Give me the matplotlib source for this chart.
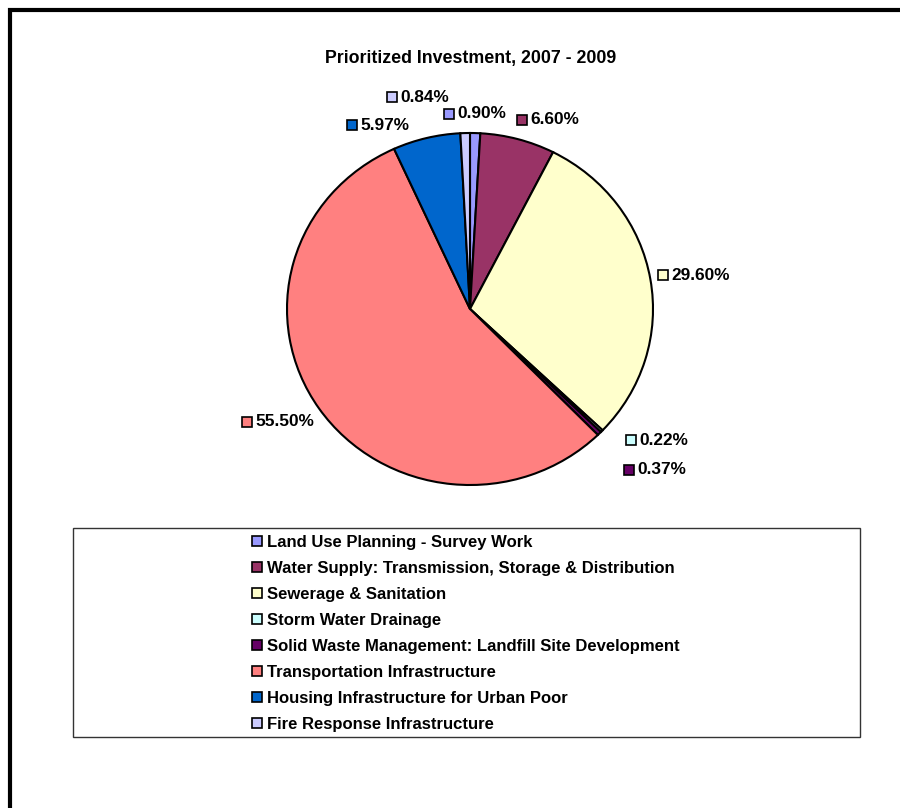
import matplotlib
matplotlib.use("Agg")
import matplotlib.pyplot as plt
from matplotlib.patches import Rectangle, Patch
from matplotlib.lines import Line2D

plt.rcParams['font.family'] = ['Liberation Sans', 'DejaVu Sans']

#%%
# data
categories = ["Land Use Planning - Survey Work",
              "Water Supply: Transmission, Storage & Distribution",
              "Sewerage & Sanitation",
              "Storm Water Drainage",
              "Solid Waste Management: Landfill Site Development",
              "Transportation Infrastructure",
              "Housing Infrastructure for Urban Poor",
              "Fire Response Infrastructure"]
shares = [0.90, 6.60, 29.60, 0.22, 0.37, 55.50, 5.97, 0.84]
colors = ["#9999FF", "#993366", "#FFFFCC", "#CCFFFF",
          "#660066", "#FF8080", "#0066CC", "#CCCCFF"]

# label marker positions (pixels, from top-left)
label_pos = [(449, 114), (522, 120), (663, 275), (631, 440),
             (629, 470), (247, 422), (352, 125), (392, 97)]

W, H = 900, 808
def fx(x):
    return x / W
def fy(y):
    return 1 - y / H

#%%
fig = plt.figure(figsize=(9, 8.08), dpi=100)

# pie axes (slightly elliptical like the original)
ax = fig.add_axes([fx(287), fy(485), (653 - 287) / W, (485 - 133) / H])
ax.pie(shares, colors=colors, startangle=90, counterclock=False,
       wedgeprops=dict(edgecolor='black', linewidth=1.5))
ax.set_aspect('auto')
ax.set_xlim(-1.0, 1.0)
ax.set_ylim(-1.0, 1.0)

fig.text(fx(471), fy(58), "Prioritized Investment, 2007 - 2009",
         ha='center', va='center', fontsize=12.8, fontweight='bold')

# data labels with legend keys
for (x, y), v, c in zip(label_pos, shares, colors):
    fig.add_artist(Line2D([fx(x)], [fy(y)], marker='s', markersize=7.5,
                          markerfacecolor=c, markeredgecolor='black',
                          markeredgewidth=1.2, transform=fig.transFigure))
    fig.text(fx(x + 8), fy(y), "%.2f%%" % v, ha='left', va='center',
             fontsize=12.4, fontweight='bold')

# legend
handles = [Patch(facecolor=c, edgecolor='black', linewidth=1.2) for c in colors]
fig.legend(handles, categories, loc='upper left',
           bbox_to_anchor=(fx(252), fy(535)), frameon=False,
           prop=dict(size=12, weight='bold'),
           handlelength=0.6, handleheight=0.6, handletextpad=0.3,
           labelspacing=0.66, borderpad=0, borderaxespad=0)
fig.add_artist(Rectangle((fx(73), fy(737)), (860 - 73) / W, (737 - 528) / H,
                         transform=fig.transFigure, fill=False,
                         edgecolor='#333333', linewidth=1.0))

# outer border (runs off right and bottom edges)
fig.add_artist(Rectangle((fx(10), -0.1), 1.2, fy(10) + 0.1,
                         transform=fig.transFigure, fill=False,
                         edgecolor='black', linewidth=3))

fig.savefig("out.png", dpi=100)
